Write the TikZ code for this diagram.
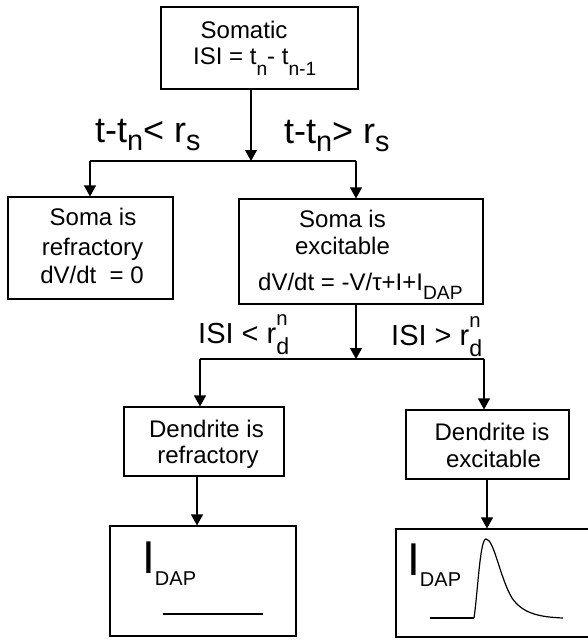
\documentclass[tikz,border=0pt]{standalone}
\usepackage{fontspec}
\usepackage{graphicx}
\setmainfont{Liberation Sans}
\usetikzlibrary{arrows.meta}
\newcommand{\lo}[2][0.35em]{\raisebox{-#1}{\scalebox{0.8}{#2}}}
\newcommand{\rdn}{r\makebox[0pt][l]{\raisebox{0.62em}{\scalebox{0.7}{n}}}\raisebox{-0.38em}{\scalebox{0.8}{d}}}
\begin{document}
\begin{tikzpicture}[x=1pt,y=-1pt,
  box/.style={draw, line width=1.1pt, inner sep=0pt},
  line/.style={line width=1.1pt},
  arr/.style={line width=1.1pt, -{Triangle[width=12pt,length=11pt]}},
  txt/.style={font=\fontsize{24}{28}\selectfont, inner sep=0pt, anchor=base},
  mid/.style={font=\fontsize{29}{32}\selectfont, inner sep=0pt, anchor=base west},
  big/.style={font=\fontsize{36}{40}\selectfont, inner sep=0pt, anchor=base west}]
\useasboundingbox (0,0) rectangle (588,642);
\fill[white] (0,0) rectangle (588,642);

% boxes
\node[box, minimum width=197pt, minimum height=82pt] (top) at (259.5,48) {};
\node[box, minimum width=165pt, minimum height=102pt] (sref) at (90.5,248) {};
\node[box, minimum width=244pt, minimum height=105pt] (sexc) at (361,251.5) {};
\node[box, minimum width=160pt, minimum height=69pt] (drefr) at (204,441.5) {};
\node[box, minimum width=163pt, minimum height=69pt] (dexc) at (487.5,444.5) {};
\node[box, minimum width=186pt, minimum height=110pt] (bl) at (203,581) {};
\node[box, minimum width=194pt, minimum height=108pt] (br) at (493,583) {};

% box texts
\node[txt] (t1) at (244,39) {Somatic};
\node[txt, anchor=base west] (t2) at (193,65) {ISI = t\lo[0.43em]{n}- t\lo[0.43em]{n-1}};
\node[txt] (s1) at (93,225) {Soma is};
\node[txt] (s2) at (92.5,255) {refractory};
\node[txt] (s3) at (92,283) {dV/dt\ \ = 0};
\node[txt] (e1) at (342.5,227) {Soma is};
\node[txt] (e2) at (342.5,254) {excitable};
\node[txt, anchor=base west] (e3) at (258,290) {dV/dt = -V/τ+I+I\lo[0.4em]{DAP}};
\node[txt] (d1) at (206.5,437) {Dendrite is};
\node[txt] (d2) at (208,463) {refractory};
\node[txt] (d3) at (492,440) {Dendrite is};
\node[txt] (d4) at (493.5,467) {excitable};

% condition labels
\node[big] (c1) at (95,142) {t-t\lo[0.24em]{n}< r\lo[0.24em]{s}};
\node[big] (c2) at (284,143) {t-t\lo[0.24em]{n}> r\lo[0.24em]{s}};
\node[mid] (c3) at (198,343) {ISI < \rdn};
\node[mid] (c4) at (391,345) {ISI > \rdn};

% connectors, first level
\coordinate (j1) at (251,161);
\coordinate (j1l) at (90,161);
\coordinate (j1r) at (356,161);
\draw[arr] (j1 |- top.south) -- (j1);
\draw[line] (j1l) -- (j1r);
\draw[arr] (j1l) -- (j1l |- sref.north);
\draw[arr] (j1r) -- (j1r |- sexc.north);

% connectors, second level
\coordinate (j2) at (356,359);
\coordinate (j2l) at (200,359);
\coordinate (j2r) at (484,359);
\draw[arr] (j2 |- sexc.south) -- (j2);
\draw[line] (j2l) -- (j2r);
\draw[arr] (j2l) -- (j2l |- drefr.north);
\draw[arr] (j2r) -- (j2r |- dexc.north);

% connectors, third level
\coordinate (x3) at (197,500);
\coordinate (x4) at (487,500);
\draw[arr] (x3 |- drefr.south) -- (x3 |- bl.north);
\draw[arr] (x4 |- dexc.south) -- (x4 |- br.north);

% I_DAP plots
\node[anchor=base west, inner sep=0pt] (i1) at (142,573) {\fontsize{46}{46}\selectfont I\raisebox{-12pt}{\fontsize{20}{20}\selectfont DAP}};
\node[anchor=base west, inner sep=0pt] (i2) at (407,575) {\fontsize{46}{46}\selectfont I\raisebox{-11pt}{\fontsize{20}{20}\selectfont DAP}};
\draw[line width=2pt] (163,614) -- (263,614);
\draw[line width=1.8pt] (430,618) -- (474,618);
\draw[line width=1.2pt] (474,618) .. controls (478,590) and (480,539) .. (486,539)
  .. controls (494,539) and (500,578) .. (512,598)
  .. controls (523,614) and (540,617) .. (563,618);
\end{tikzpicture}
\end{document}
